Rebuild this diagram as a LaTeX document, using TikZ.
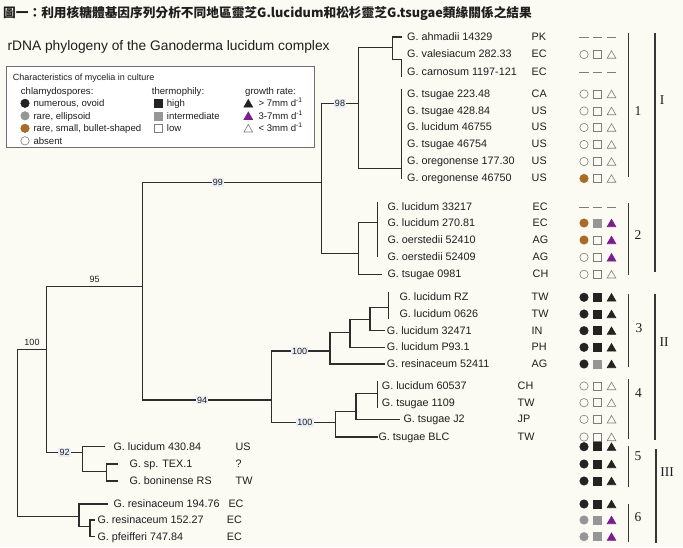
\documentclass[tikz,border=0pt]{standalone}
\usepackage{fontspec}
\setmainfont{Liberation Sans}
\newfontfamily\cjkfont{Noto Sans CJK TC}
\newfontfamily\numfont{Liberation Serif}
\usetikzlibrary{shapes.geometric}

\definecolor{paper}{RGB}{251,250,243}
\definecolor{treeline}{RGB}{45,45,45}
\definecolor{inkdark}{RGB}{30,30,30}
\definecolor{labelbg}{RGB}{234,239,246}
\definecolor{symdark}{RGB}{35,35,35}
\definecolor{symgray}{RGB}{150,150,150}
\definecolor{symline}{RGB}{125,125,125}
\definecolor{symbrown}{RGB}{168,108,40}
\definecolor{sympurple}{RGB}{122,30,140}
\definecolor{legendline}{RGB}{110,110,110}
\definecolor{barline}{RGB}{55,55,55}

\tikzset{
  leaf/.style={
    anchor=west, inner sep=0pt, text=inkdark,
    font=\fontsize{10.8}{12}\selectfont,
    text height=1.5ex, text depth=.25ex
  },
  country/.style={leaf},
  branch/.style={draw=treeline, line width=1.1pt},
  support/.style={
    font=\fontsize{9}{10}\selectfont, text=inkdark,
    fill=labelbg, inner sep=1.3pt
  },
  supportabove/.style={
    font=\fontsize{9}{10}\selectfont, text=inkdark,
    inner sep=1pt, above=2.5pt
  },
  legtext/.style={
    anchor=west, inner sep=0pt, text=inkdark,
    font=\fontsize{9.6}{11}\selectfont,
    text height=1.5ex, text depth=.25ex
  },
  leghead/.style={legtext, font=\fontsize{9}{10.5}\selectfont},
  groupbar/.style={draw=barline, line width=1.4pt},
  grouplabel/.style={
    font=\numfont\fontsize{13.5}{15}\selectfont,
    text=inkdark, inner sep=0pt
  },
  %% trait symbols
  symc/.style={circle, inner sep=0pt, minimum size=8.4pt, line width=.6pt},
  cblk/.style={symc, fill=symdark, draw=symdark},
  cgry/.style={symc, fill=symgray, draw=symgray},
  cbrn/.style={symc, fill=symbrown, draw=symbrown},
  cwht/.style={symc, draw=symline},
  syms/.style={rectangle, inner sep=0pt, minimum size=8pt, line width=.6pt},
  sblk/.style={syms, fill=symdark, draw=symdark},
  sgry/.style={syms, fill=symgray, draw=symgray},
  swht/.style={syms, draw=symline},
  symt/.style={
    regular polygon, regular polygon sides=3, inner sep=0pt,
    minimum size=10pt, line width=.6pt, yshift=-1.2pt
  },
  tblk/.style={symt, fill=symdark, draw=symdark},
  tpur/.style={symt, fill=sympurple, draw=sympurple},
  twht/.style={symt, draw=symline},
  symdash/.style={
    rectangle, inner sep=0pt, minimum width=9.5pt,
    minimum height=.9pt, fill=symline
  },
  cdsh/.style={symdash},
  sdsh/.style={symdash},
  tdsh/.style={symdash},
}

\begin{document}
\begin{tikzpicture}[x=1pt, y=-1pt]

  \path[use as bounding box, fill=paper] (0,0) rectangle (683,547);

  %% Titles
  \node[anchor=west, inner sep=0pt, text=inkdark,
        font=\cjkfont\bfseries\fontsize{12.7}{14}\selectfont] (title) at (3,13)
    {圖一：利用核糖體基因序列分析不同地區靈芝G.lucidum和松杉靈芝G.tsugae類緣關係之結果};
  \node[anchor=west, inner sep=0pt, text=inkdark,
        font=\fontsize{13.8}{15}\selectfont] (subtitle) at (7.3,47)
    {rDNA phylogeny of the Ganoderma lucidum complex};

  %% Legend
  \node[draw=legendline, fill=white, line width=.7pt, inner sep=0pt,
        minimum width=308pt, minimum height=80.6pt] (legend) at (160,107) {};
  \node[leghead] (lhead) at (12.7,76.7) {Characteristics of mycelia in culture};
  \node[legtext] (lchl) at (20.7,91.5) {chlamydospores:};
  \node[legtext] (lthm) at (151.7,91.5) {thermophily:};
  \node[legtext] (lgrw) at (245,91.5) {growth rate:};

  \node[cblk] (k1) at (25,103.3) {};
  \node[legtext] (k1t) at (33.3,103.3) {numerous, ovoid};
  \node[cgry] (k2) at (25,115.8) {};
  \node[legtext] (k2t) at (33.3,115.8) {rare, ellipsoid};
  \node[cbrn] (k3) at (25,128.3) {};
  \node[legtext] (k3t) at (33.3,128.3) {rare, small, bullet-shaped};
  \node[cwht] (k4) at (25,140.8) {};
  \node[legtext] (k4t) at (33.3,140.8) {absent};

  \node[sblk] (m1) at (158.3,103.3) {};
  \node[legtext] (m1t) at (166.7,103.3) {high};
  \node[sgry] (m2) at (158.3,115.8) {};
  \node[legtext] (m2t) at (166.7,115.8) {intermediate};
  \node[swht] (m3) at (158.3,128.3) {};
  \node[legtext] (m3t) at (166.7,128.3) {low};

  \node[tblk] (r1) at (248.3,103.3) {};
  \node[legtext] (r1t) at (258.3,103.3) {> 7mm d\textsuperscript{-1}};
  \node[tpur] (r2) at (248.3,115.8) {};
  \node[legtext] (r2t) at (258.3,115.8) {3-7mm d\textsuperscript{-1}};
  \node[twht] (r3) at (248.3,128.3) {};
  \node[legtext] (r3t) at (258.3,128.3) {< 3mm d\textsuperscript{-1}};

  %% Taxa
  \node[leaf] (L1) at (407,37) {G. ahmadii 14329};
  \node[leaf] (L2) at (407,54.5) {G. valesiacum 282.33};
  \node[leaf] (L3) at (407,72) {G. carnosum 1197-121};
  \node[leaf] (L4) at (407,94) {G. tsugae 223.48};
  \node[leaf] (L5) at (407,111) {G. tsugae 428.84};
  \node[leaf] (L6) at (407,127.5) {G. lucidum 46755};
  \node[leaf] (L7) at (407,144.5) {G. tsugae 46754};
  \node[leaf] (L8) at (407,161.5) {G. oregonense 177.30};
  \node[leaf] (L9) at (407,178.5) {G. oregonense 46750};
  \node[leaf] (L10) at (387.3,207.3) {G. lucidum 33217};
  \node[leaf] (L11) at (387.3,223) {G. lucidum 270.81};
  \node[leaf] (L12) at (387.3,240) {G. oerstedii 52410};
  \node[leaf] (L13) at (387.3,257.3) {G. oerstedii 52409};
  \node[leaf] (L14) at (387.3,274.3) {G. tsugae 0981};
  \node[leaf] (L15) at (399.3,297.3) {G. lucidum RZ};
  \node[leaf] (L16) at (399.3,314) {G. lucidum 0626};
  \node[leaf] (L17) at (386.7,330.7) {G. lucidum 32471};
  \node[leaf] (L18) at (386.7,347.3) {G. lucidum P93.1};
  \node[leaf] (L19) at (386.7,364) {G. resinaceum 52411};
  \node[leaf] (L20) at (381.7,386) {G. lucidum 60537};
  \node[leaf] (L21) at (381.7,402.7) {G. tsugae 1109};
  \node[leaf] (L22) at (403.3,419.3) {G. tsugae J2};
  \node[leaf] (L23) at (378.3,437) {G. tsugae BLC};
  \node[leaf] (L24) at (113.3,446.7) {G. lucidum 430.84};
  \node[leaf] (L25) at (129.3,464) {G. sp. TEX.1};
  \node[leaf] (L26) at (129.3,481) {G. boninense RS};
  \node[leaf] (L27) at (113.3,504) {G. resinaceum 194.76};
  \node[leaf] (L28) at (97.3,520) {G. resinaceum 152.27};
  \node[leaf] (L29) at (97.3,536.7) {G. pfeifferi 747.84};

  %% Origins
  \foreach \lf/\cx/\cc in {L1/531.5/PK, L2/531.5/EC, L3/531.5/EC,
      L4/531.5/CA, L5/531.5/US, L6/531.5/US, L7/531.5/US, L8/531.5/US,
      L9/531.5/US, L10/532.5/EC, L11/532.5/EC, L12/532.5/AG,
      L13/532.5/AG, L14/532.5/CH, L15/531.5/TW, L16/531.5/TW,
      L17/531.5/IN, L18/531.5/PH, L19/531.5/AG, L20/517.5/CH,
      L21/517.5/TW, L22/517.5/JP, L23/517.5/TW, L24/235.5/US,
      L25/235.5/?, L26/235.5/TW, L27/228.3/EC, L28/226.7/EC, L29/226.7/EC}
    \node[country] (\lf-code) at (\cx,0 |- \lf) {\cc};

  %% Traits: chlamydospores / thermophily / growth rate
  \foreach \lf/\kc/\ks/\kt in {L1/cdsh/sdsh/tdsh, L2/cwht/swht/twht,
      L3/cdsh/sdsh/tdsh, L4/cwht/swht/twht, L5/cwht/swht/twht,
      L6/cwht/swht/twht, L7/cwht/swht/twht, L8/cwht/swht/twht,
      L9/cbrn/swht/twht, L10/cdsh/sdsh/tdsh, L11/cbrn/sgry/tpur,
      L12/cbrn/swht/tpur, L13/cwht/swht/tpur, L14/cwht/swht/twht,
      L15/cblk/sblk/tblk, L16/cblk/sblk/tblk, L17/cblk/sblk/tblk,
      L18/cblk/sblk/tblk, L19/cblk/sgry/tblk, L20/cwht/swht/twht,
      L21/cwht/swht/twht, L22/cwht/swht/twht, L23/cwht/swht/twht,
      L24/cblk/sblk/tblk, L25/cblk/sblk/tblk, L26/cblk/sblk/tblk,
      L27/cblk/sblk/tblk, L28/cgry/sgry/tpur, L29/cgry/sgry/tpur}
  {
    \node[\kc] (\lf-c) at (584,0 |- \lf) {};
    \node[\ks] (\lf-s) at (597.5,0 |- \lf) {};
    \node[\kt] (\lf-t) at (611.5,0 |- \lf) {};
  }

  %% Internal nodes
  \coordinate (root) at (17.3,433);
  \coordinate (n95) at (46.7,349.3);
  \coordinate (n94) at (142.7,286.7);
  \coordinate (n99) at (321.7,182.3);
  \coordinate (n98) at (358.3,103.3);
  \coordinate (nA) at (392.7,47.3);
  \coordinate (zA) at (401.7,59.5);
  \coordinate (zB) at (401.7,168.3);
  \coordinate (nC) at (358.3,253.3);
  \coordinate (zC) at (377.3,222.7);
  \coordinate (n100a) at (271.7,400);
  \coordinate (nD3) at (330,351);
  \coordinate (nD2) at (350,332.7);
  \coordinate (nD1) at (370,319.3);
  \coordinate (zD) at (388.3,307.3);
  \coordinate (nE2) at (335.5,422.7);
  \coordinate (nE1) at (356,411.7);
  \coordinate (zE) at (377.7,393.3);
  \coordinate (n92) at (82.7,452.7);
  \coordinate (nF) at (106.7,471.7);
  \coordinate (nG2) at (79,516.7);
  \coordinate (nG) at (90,526.7);

  %% Backbone
  \draw[branch] (root) |- node[pos=.75, supportabove] {100} (n95);
  \draw[branch] (root) |- (nG2);
  \draw[branch] (n95) |- node[pos=.75, supportabove] {95} (n94);
  \draw[branch] (n95) |- node[pos=.75, support] {92} (n92);
  \draw[branch] (n94) |- node[pos=.71, support] {99} (n99);
  \draw[branch] (n94) |- node[pos=.73, support] {94} (n100a);

  %% Group I
  \draw[branch] (n99) |- node[pos=.75, support] {98} (n98);
  \draw[branch] (n99) |- (nC);
  \draw[branch] (n98) |- (nA);
  \draw[branch] (n98) |- (zB);
  \draw[branch, shorten >=5pt] (nA) |- (L1);
  \draw[branch] (nA) |- (zA);
  \draw[branch] (zA) -- (zA |- L3.south);
  \draw[branch] (zB |- L4.north) -- (zB |- L9);
  \draw[branch] (nC) |- (zC);
  \draw[branch, shorten >=5.5pt] (nC) |- (L14);
  \draw[branch] (zC |- L10.north) -- (zC |- L13);

  %% Group II
  \draw[branch] (n100a) |- node[pos=.74, support] {100} (nD3);
  \draw[branch] (n100a) |- node[pos=.76, support] {100} (nE2);
  \draw[branch] (nD3) |- (nD2);
  \draw[branch, shorten >=1.5pt] (nD3) |- (L19);
  \draw[branch] (nD2) |- (nD1);
  \draw[branch, shorten >=1.5pt] (nD2) |- (L18);
  \draw[branch] (nD1) |- (zD);
  \draw[branch, shorten >=1.5pt] (nD1) |- (L17);
  \draw[branch] (zD |- L15.north) -- (zD |- L16.south);
  \draw[branch] (nE2) |- (nE1);
  \draw[branch, shorten >=.5pt] (nE2) |- (L23);
  \draw[branch] (nE1) |- (zE);
  \draw[branch, shorten >=3pt] (nE1) |- (L22);
  \draw[branch] (zE |- L20.north) -- (zE |- L21.south);

  %% Group III
  \draw[branch, shorten >=8pt] (n92) |- (L24);
  \draw[branch] (n92) |- (nF);
  \draw[branch, shorten >=11pt] (nF) |- (L25);
  \draw[branch, shorten >=11pt] (nF) |- (L26);
  \draw[branch, shorten >=5pt] (nG2) |- (L27);
  \draw[branch] (nG2) |- (nG);
  \draw[branch, shorten >=2pt] (nG) |- (L28);
  \draw[branch, shorten >=2pt] (nG) |- (L29);

  %% Clade bars
  \draw[groupbar] (628.3,33.3) -- (628.3,176.7);
  \node[grouplabel] (g1) at (638,111) {1};
  \draw[groupbar] (628.3,203.3) -- (628.3,275);
  \node[grouplabel] (g2) at (638,235) {2};
  \draw[groupbar] (628.3,294) -- (628.3,367.3);
  \node[grouplabel] (g3) at (639,328.3) {3};
  \draw[groupbar] (628.3,379) -- (628.3,438.5);
  \node[grouplabel] (g4) at (638.5,393.5) {4};
  \draw[groupbar] (628.3,446) -- (628.3,486.5);
  \node[grouplabel] (g5) at (638,456) {5};
  \draw[groupbar] (628.3,504) -- (628.3,542);
  \node[grouplabel] (g6) at (638,517) {6};

  \draw[groupbar] (655,33.3) -- (655,272);
  \node[grouplabel] (gI) at (662,100) {I};
  \draw[groupbar] (655,294) -- (655,440);
  \node[grouplabel] (gII) at (664,341.7) {II};
  \draw[groupbar] (656,449) -- (656,543);
  \node[grouplabel] (gIII) at (667,472) {III};

\end{tikzpicture}
\end{document}
